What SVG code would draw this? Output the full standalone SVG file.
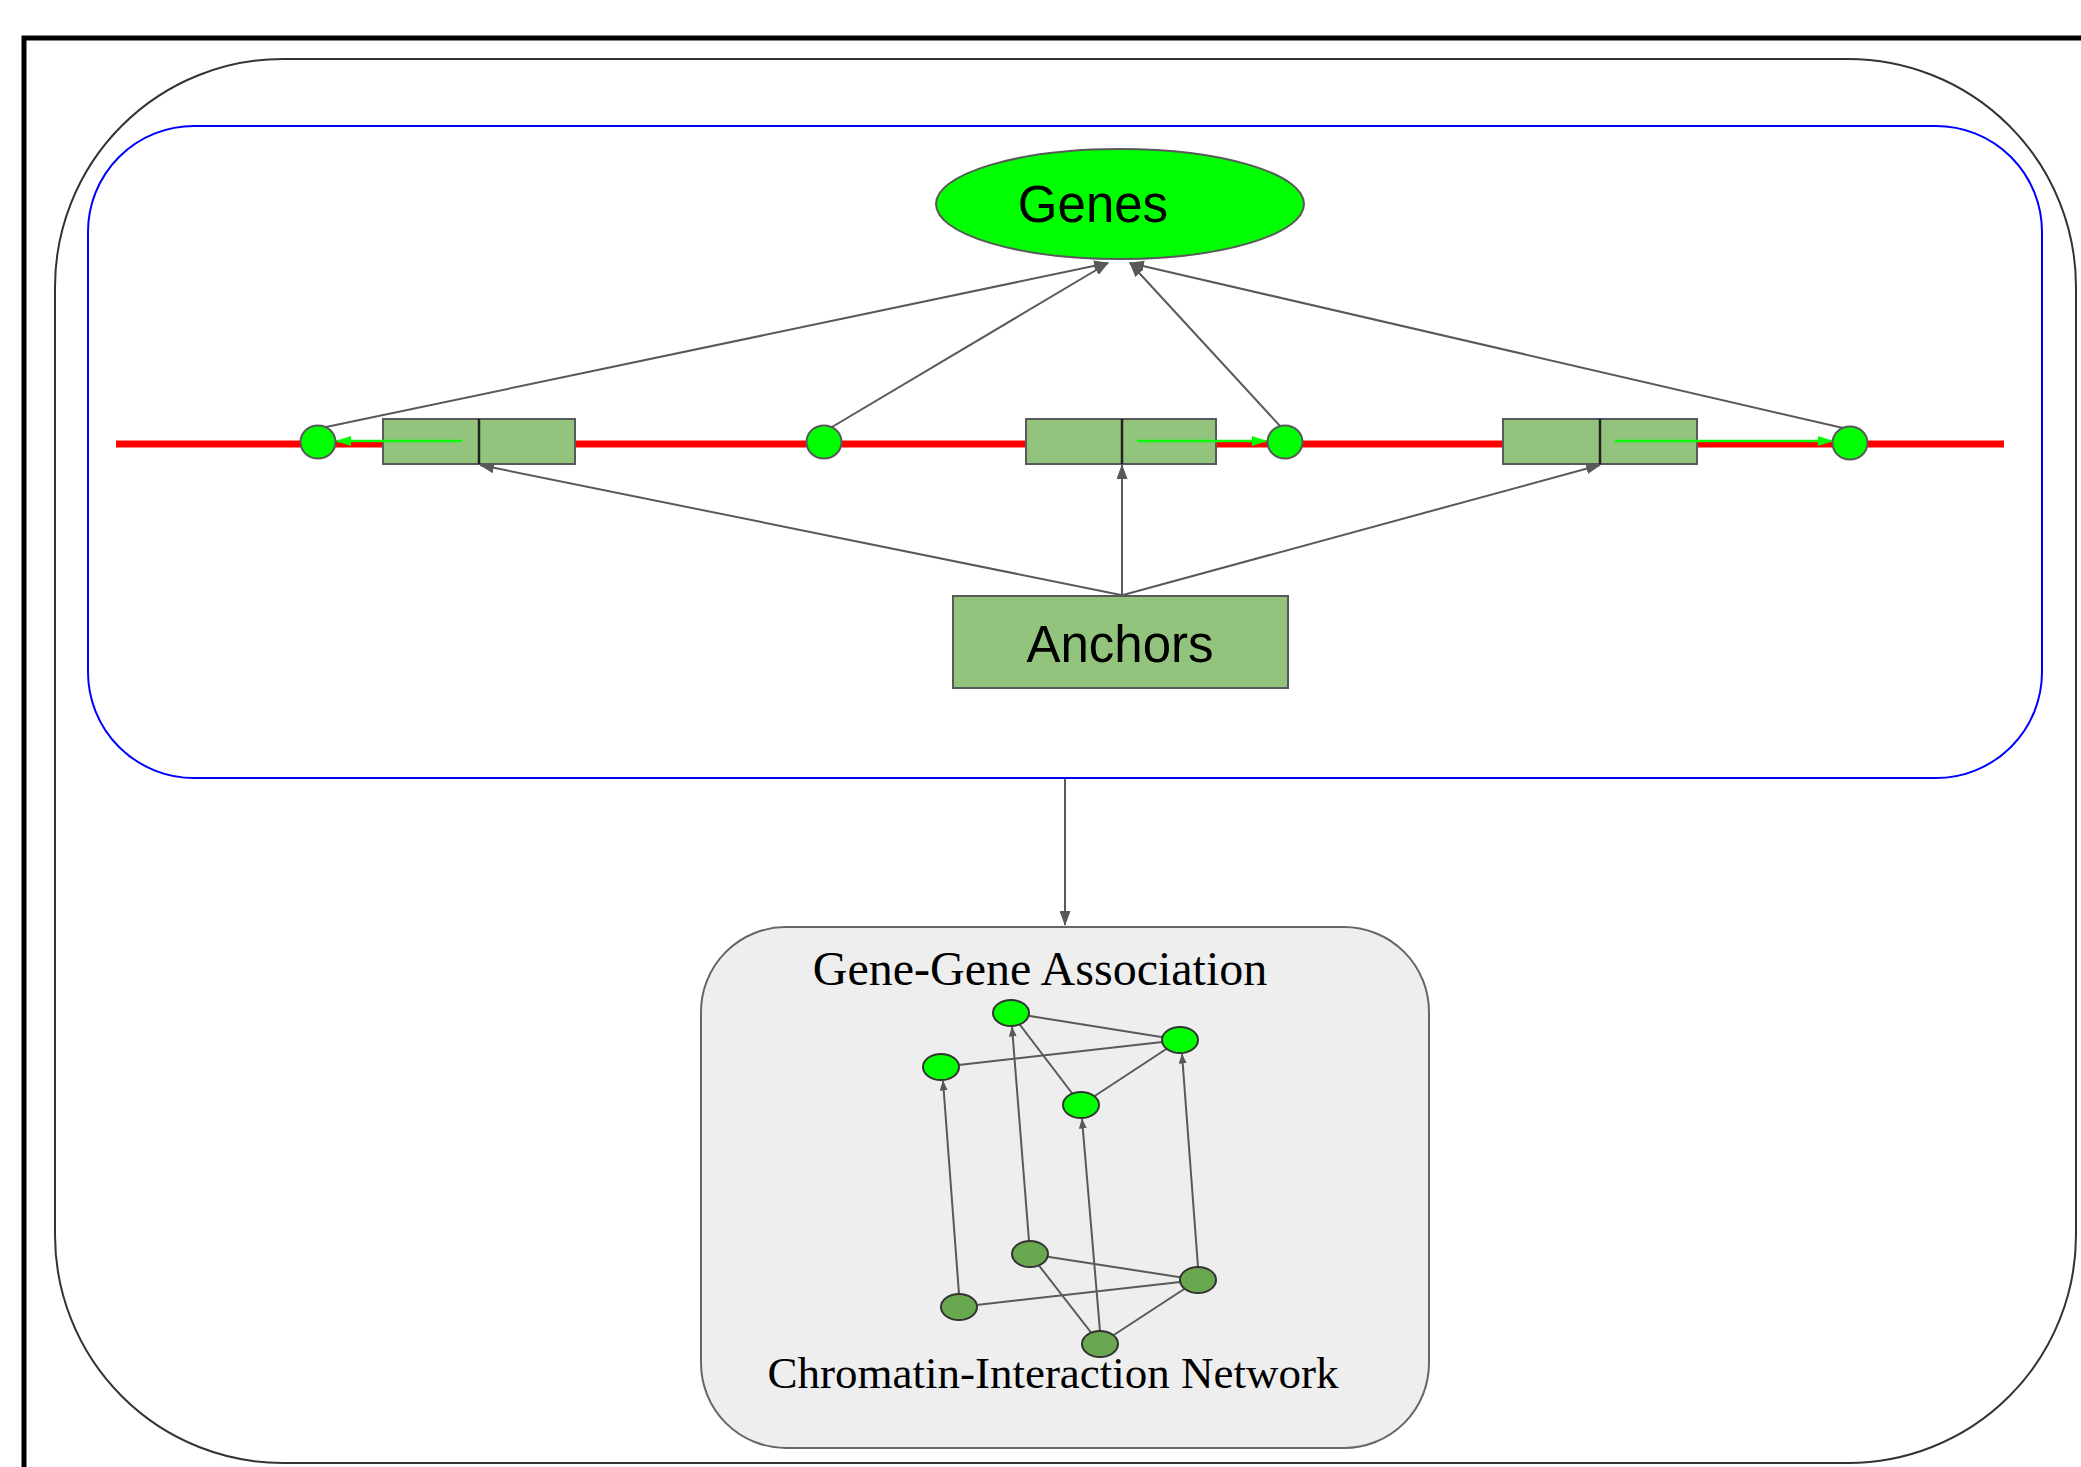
<svg xmlns="http://www.w3.org/2000/svg" width="2081" height="1467" viewBox="0 0 2081 1467">
<style>
.conn{stroke:#595959;stroke-width:2;fill:none}
.gconn{stroke:#00ff00;stroke-width:2.5;fill:none}
.box{fill:#93c47d;stroke:#595959;stroke-width:2}
.dot{fill:#00ff00;stroke:#595959;stroke-width:2}
.dnode{fill:#6aa84f;stroke:#333;stroke-width:2}
.gnode{fill:#00ff00;stroke:#333;stroke-width:2}
.sans{font-family:"Liberation Sans",Arial,sans-serif;fill:#000}
.serif{font-family:"Liberation Serif","Times New Roman",serif;fill:#000}
</style>
<defs>
<marker id="ah" markerWidth="15" markerHeight="11" refX="14" refY="5.5" orient="auto" markerUnits="userSpaceOnUse">
<path d="M0,0 L15,5.5 L0,11 z" fill="#595959"/>
</marker>
<marker id="ahs" markerWidth="10" markerHeight="8" refX="9.5" refY="4" orient="auto" markerUnits="userSpaceOnUse">
<path d="M0,0 L10,4 L0,8 z" fill="#595959"/>
</marker>
<marker id="ahg" markerWidth="15" markerHeight="10" refX="14" refY="5" orient="auto" markerUnits="userSpaceOnUse">
<path d="M0,0 L15,5 L0,10 z" fill="#00ff00"/>
</marker>
</defs>
<rect width="2081" height="1467" fill="#ffffff"/>
<g id="frame">
<rect x="24" y="38" width="2100" height="1480" fill="none" stroke="#000" stroke-width="5"/>
</g>
<g id="outer">
<rect x="55" y="59" width="2021" height="1404" rx="228" ry="228" fill="none" stroke="#333" stroke-width="2"/>
</g>
<g id="blue-panel">
<rect x="88" y="126" width="1954" height="652" rx="106" ry="106" fill="none" stroke="#0000ff" stroke-width="2"/>
</g>
<g id="chromosome">
<line x1="116" y1="444" x2="2004" y2="444" stroke="#ff0000" stroke-width="7"/>
</g>
<g id="gray-panel">
<rect x="701" y="927" width="728" height="521" rx="85" ry="85" fill="#eeeeee" stroke="#666" stroke-width="2"/>
<text class="serif" x="1040" y="985" font-size="48" text-anchor="middle">Gene-Gene Association</text>
<text class="serif" x="1053" y="1388" font-size="45" text-anchor="middle">Chromatin-Interaction Network</text>
</g>
<g id="connectors">
<line class="conn" x1="326" y1="427" x2="1108" y2="263" marker-end="url(#ah)"/>
<line class="conn" x1="832" y1="427" x2="1108" y2="263" marker-end="url(#ah)"/>
<line class="conn" x1="1280" y1="426" x2="1130" y2="263" marker-end="url(#ah)"/>
<line class="conn" x1="1843" y1="428" x2="1130" y2="263" marker-end="url(#ah)"/>
<line class="conn" x1="1121" y1="595" x2="480" y2="465" marker-end="url(#ah)"/>
<line class="conn" x1="1122" y1="595" x2="1122" y2="465" marker-end="url(#ah)"/>
<line class="conn" x1="1123" y1="595" x2="1600" y2="465" marker-end="url(#ah)"/>
<line class="conn" x1="1065" y1="779" x2="1065" y2="925" marker-end="url(#ah)"/>
<line class="conn" x1="1011" y1="1013" x2="1180" y2="1040"/>
<line class="conn" x1="941" y1="1067" x2="1180" y2="1040"/>
<line class="conn" x1="1011" y1="1013" x2="1081" y2="1105"/>
<line class="conn" x1="1081" y1="1105" x2="1180" y2="1040"/>
<line class="conn" x1="1030" y1="1254" x2="1198" y2="1280"/>
<line class="conn" x1="959" y1="1307" x2="1198" y2="1280"/>
<line class="conn" x1="1030" y1="1254" x2="1100" y2="1344"/>
<line class="conn" x1="1100" y1="1344" x2="1198" y2="1280"/>
<line class="conn" x1="959" y1="1294" x2="943" y2="1081" marker-end="url(#ahs)"/>
<line class="conn" x1="1029" y1="1241" x2="1012" y2="1027" marker-end="url(#ahs)"/>
<line class="conn" x1="1100" y1="1331" x2="1082" y2="1119" marker-end="url(#ahs)"/>
<line class="conn" x1="1198" y1="1267" x2="1182" y2="1054" marker-end="url(#ahs)"/>
</g>
<g id="genes">
<ellipse cx="1120" cy="204" rx="184" ry="55" fill="#00ff00" stroke="#595959" stroke-width="2"/>
<text class="sans" x="1093" y="222" font-size="51" text-anchor="middle">Genes</text>
</g>
<g id="anchors">
<rect class="box" x="953" y="596" width="335" height="92"/>
<text class="sans" x="1120" y="662" font-size="51" text-anchor="middle">Anchors</text>
</g>
<g id="anchor1">
<rect class="box" x="383" y="419" width="192" height="45"/>
<line x1="479" y1="419" x2="479" y2="464" stroke="#222" stroke-width="2.5"/>
</g>
<g id="anchor2">
<rect class="box" x="1026" y="419" width="190" height="45"/>
<line x1="1122" y1="419" x2="1122" y2="464" stroke="#222" stroke-width="2.5"/>
</g>
<g id="anchor3">
<rect class="box" x="1503" y="419" width="194" height="45"/>
<line x1="1600" y1="419" x2="1600" y2="464" stroke="#222" stroke-width="2.5"/>
</g>
<g id="loop-arrows">
<line class="gconn" x1="462" y1="441" x2="337" y2="441" marker-end="url(#ahg)"/>
<line class="gconn" x1="1137" y1="441" x2="1266" y2="441" marker-end="url(#ahg)"/>
<line class="gconn" x1="1615" y1="441" x2="1832" y2="441" marker-end="url(#ahg)"/>
</g>
<g id="gene1"><ellipse class="dot" cx="318" cy="442" rx="17.5" ry="16.5"/></g>
<g id="gene2"><ellipse class="dot" cx="824" cy="442" rx="17.5" ry="16.5"/></g>
<g id="gene3"><ellipse class="dot" cx="1285" cy="442" rx="17.5" ry="16.5"/></g>
<g id="gene4"><ellipse class="dot" cx="1850" cy="443" rx="17.5" ry="16.5"/></g>
<g id="gA"><ellipse class="gnode" cx="1011" cy="1013" rx="18" ry="13"/></g>
<g id="gB"><ellipse class="gnode" cx="1180" cy="1040" rx="18" ry="13"/></g>
<g id="gC"><ellipse class="gnode" cx="941" cy="1067" rx="18" ry="13"/></g>
<g id="gD"><ellipse class="gnode" cx="1081" cy="1105" rx="18" ry="13"/></g>
<g id="cE"><ellipse class="dnode" cx="1030" cy="1254" rx="18" ry="13"/></g>
<g id="cF"><ellipse class="dnode" cx="1198" cy="1280" rx="18" ry="13"/></g>
<g id="cG"><ellipse class="dnode" cx="959" cy="1307" rx="18" ry="13"/></g>
<g id="cH"><ellipse class="dnode" cx="1100" cy="1344" rx="18" ry="13"/></g>
</svg>
